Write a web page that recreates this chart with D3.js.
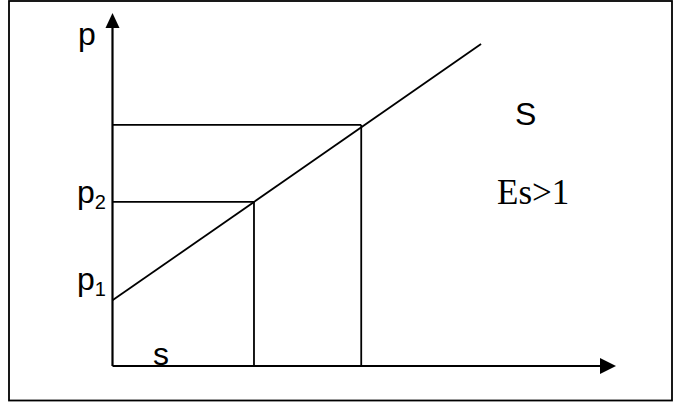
<!DOCTYPE html>
<html>
<head>
<meta charset="utf-8">
<script src="https://cdn.jsdelivr.net/npm/d3@7"></script>
<style>
  body { margin: 0; background: #fff; }
</style>
</head>
<body>
<script>
// valeurs (unités arbitraires 0..100)
const supplyQ = [0, 73.2]
const supplyP = [18.6, 91.2]
const quantities = [28.1, 49.4]
const prices = [46.5, 68.3]
const priceLabels = ["1", "2"]

const width = 673
const height = 405

const svg = d3.select("body")
    .append("svg")
    .attr("width", width)
    .attr("height", height)

// cadre autour de la figure
svg.append("rect")
    .attr("x", 9).attr("y", 1)
    .attr("width", 663).attr("height", 399.5)
    .attr("fill", "none")
    .attr("stroke", "#000")
    .attr("stroke-width", 1.8)

const x = d3.scaleLinear().domain([0, 100]).range([112.5, 616])
const y = d3.scaleLinear().domain([0, 100]).range([366, 13])

// axes avec flèches
svg.append("line")
    .attr("x1", x(0)).attr("y1", y(0))
    .attr("x2", x(0)).attr("y2", y(96))
    .attr("stroke", "#000").attr("stroke-width", 2.2)
svg.append("line")
    .attr("x1", x(0)).attr("y1", y(0))
    .attr("x2", x(97)).attr("y2", y(0))
    .attr("stroke", "#000").attr("stroke-width", 2.2)

svg.append("path")
    .attr("d", `M${x(0)},${y(100)} L${x(0) - 7},${y(100) + 15} L${x(0) + 7},${y(100) + 15} Z`)
    .attr("fill", "#000")
svg.append("path")
    .attr("d", `M${x(100)},${y(0)} L${x(100) - 16},${y(0) - 8} L${x(100) - 16},${y(0) + 8} Z`)
    .attr("fill", "#000")

// lignes de repère prix / quantité
quantities.forEach((q, i) => {
    svg.append("line")
        .attr("x1", x(0)).attr("y1", y(prices[i]))
        .attr("x2", x(q)).attr("y2", y(prices[i]))
        .attr("stroke", "#000").attr("stroke-width", 1.8)
    svg.append("line")
        .attr("x1", x(q)).attr("y1", y(prices[i]))
        .attr("x2", x(q)).attr("y2", y(0))
        .attr("stroke", "#000").attr("stroke-width", 1.8)
})

// courbe d'offre
svg.append("line")
    .attr("x1", x(supplyQ[0])).attr("y1", y(supplyP[0]))
    .attr("x2", x(supplyQ[1])).attr("y2", y(supplyP[1]))
    .attr("stroke", "#000").attr("stroke-width", 1.8)

const sans = "'Liberation Sans', Arial, sans-serif"

svg.append("text")
    .attr("x", 78).attr("y", 45)
    .attr("font-family", sans).attr("font-size", 32)
    .text("p")

// p1 et p2
const labelY = [y(supplyP[0]) - 10, y(prices[0]) + 1]
labelY.forEach((ly, i) => {
    const t = svg.append("text")
        .attr("x", 77).attr("y", ly)
        .attr("font-family", sans).attr("font-size", 32)
    t.append("tspan").text("p")
    t.append("tspan")
        .attr("font-size", 20)
        .attr("dx", 0)
        .attr("dy", 6)
        .text(priceLabels[i])
})

svg.append("text")
    .attr("x", 153).attr("y", 365)
    .attr("font-family", sans).attr("font-size", 32)
    .text("s")

svg.append("text")
    .attr("x", 515).attr("y", 125)
    .attr("font-family", sans).attr("font-size", 32)
    .text("S")

svg.append("text")
    .attr("x", 497).attr("y", 204)
    .attr("font-family", "'Liberation Serif', 'Times New Roman', serif")
    .attr("font-size", 35)
    .text("Es>1")
</script>
</body>
</html>
